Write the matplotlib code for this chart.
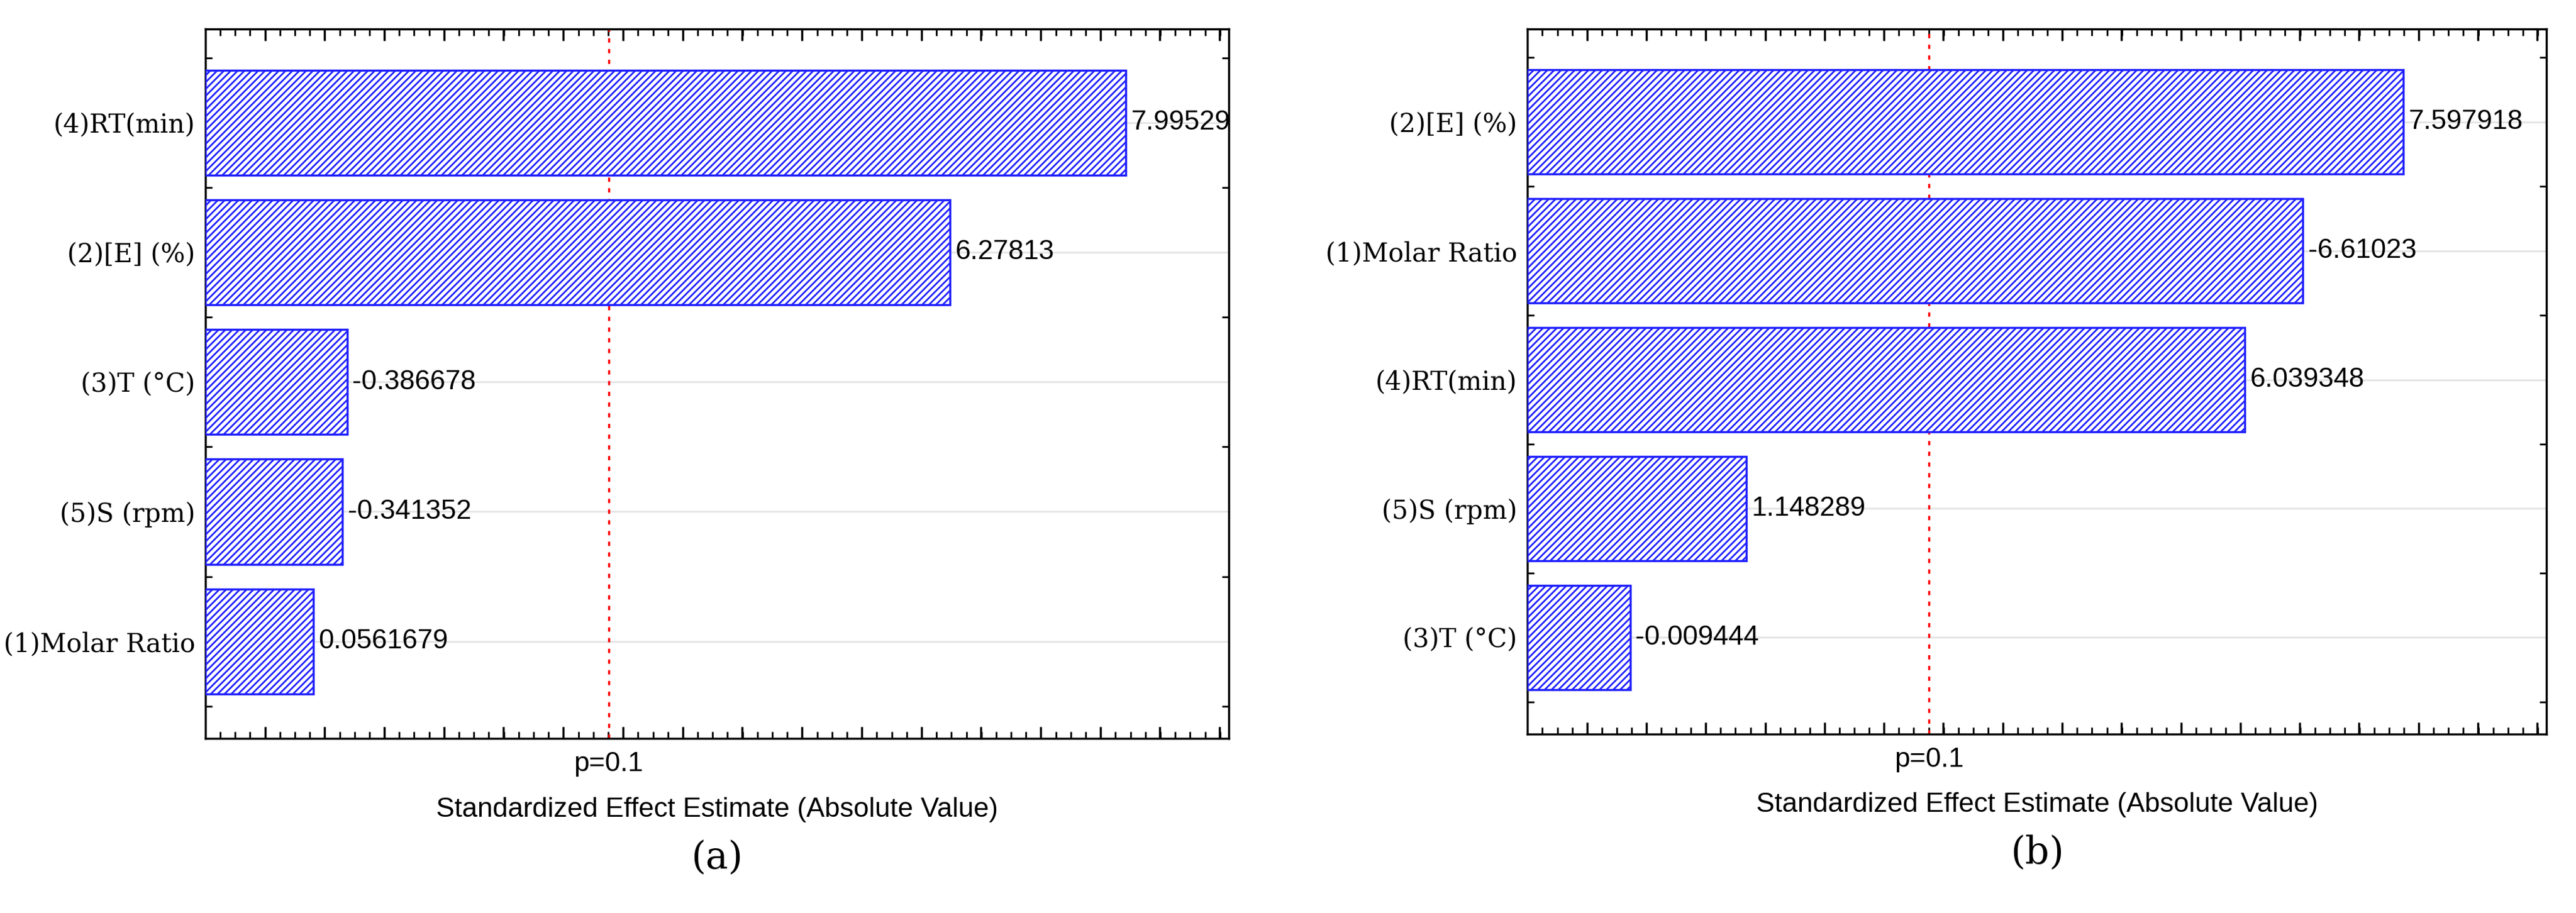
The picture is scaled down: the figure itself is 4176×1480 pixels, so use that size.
import numpy as np
import matplotlib
matplotlib.use("Agg")
import matplotlib.pyplot as plt

cats_a = ["(4)RT(min)", "(2)[E] (%)", "(3)T (°C)", "(5)S (rpm)", "(1)Molar Ratio"]
vals_a = [7.99529, 6.27813, -0.386678, -0.341352, 0.0561679]
labels_a = ["7.99529", "6.27813", "-0.386678", "-0.341352", "0.0561679"]
cats_b = ["(2)[E] (%)", "(1)Molar Ratio", "(4)RT(min)", "(5)S (rpm)", "(3)T (°C)"]
vals_b = [7.597918, -6.61023, 6.039348, 1.148289, -0.009444]
labels_b = ["7.597918", "-6.61023", "6.039348", "1.148289", "-0.009444"]
p_crit = 2.94
xmin, xmax = -1.0, 9.0

fig = plt.figure(figsize=(41.76, 14.8), dpi=100)
axes_pos = [[0.0797, 0.191, 0.3973, 0.777], [0.593, 0.196, 0.3955, 0.772]]
sans = "Liberation Sans"
serif = "DejaVu Serif"
plt.rcParams['hatch.linewidth'] = 2.0

for pos, cats, vals, labs, tag in [(axes_pos[0], cats_a, vals_a, labels_a, "a"),
                                   (axes_pos[1], cats_b, vals_b, labels_b, "b")]:
    ax = fig.add_axes(pos)
    y = np.arange(len(cats))
    widths = np.abs(vals) - xmin
    ax.barh(y, widths, left=xmin, height=0.81, color="white", edgecolor="#2020ff",
            hatch="///", linewidth=2.5, zorder=3)
    for yi in y:
        ax.axhline(yi, color="#e4e4e4", lw=2, zorder=1)
    for yi, v, l in zip(y, vals, labs):
        ax.text(abs(v) + 0.05, yi, l, va="center", ha="left", fontsize=32, family=sans, zorder=4)
    ax.axvline(p_crit, color="red", ls=(0, (2, 3)), lw=2.5, zorder=2)
    ax.set_xlim(xmin, xmax)
    ax.set_ylim(len(cats) - 0.25, -0.72)
    ax.set_yticks(y)
    ax.set_yticklabels(cats, family=serif, fontsize=30)
    ax.set_yticks(np.arange(-0.5, len(cats), 1), minor=True)
    major = np.arange(xmin + 0.583, xmax, 0.583)
    ax.set_xticks(major)
    ax.set_xticks(np.arange(xmin + 0.1458, xmax, 0.1458), minor=True)
    ax.set_xticklabels([])
    ax.tick_params(axis="x", which="major", length=14, width=2.5, direction="in")
    ax.tick_params(axis="x", which="minor", length=8, width=2, direction="in")
    ax.tick_params(axis="y", which="major", length=0, pad=12)
    ax.tick_params(axis="y", which="minor", length=8, width=2, direction="in")
    ax.tick_params(top=True, right=True, which="both")
    for s in ax.spines.values():
        s.set_linewidth(2.5)
    ax.text(p_crit, -0.036, "p=0.1", transform=ax.get_xaxis_transform(), ha="center",
            va="center", fontsize=32, family=sans)
    ax.text(0.5, -0.10, "Standardized Effect Estimate (Absolute Value)", transform=ax.transAxes,
            ha="center", va="center", fontsize=32, family=sans)
    ax.text(0.5, -0.168, "(" + tag + ")", transform=ax.transAxes, ha="center", va="center",
            fontsize=44, family=serif)

fig.savefig("out.png", dpi=100)
